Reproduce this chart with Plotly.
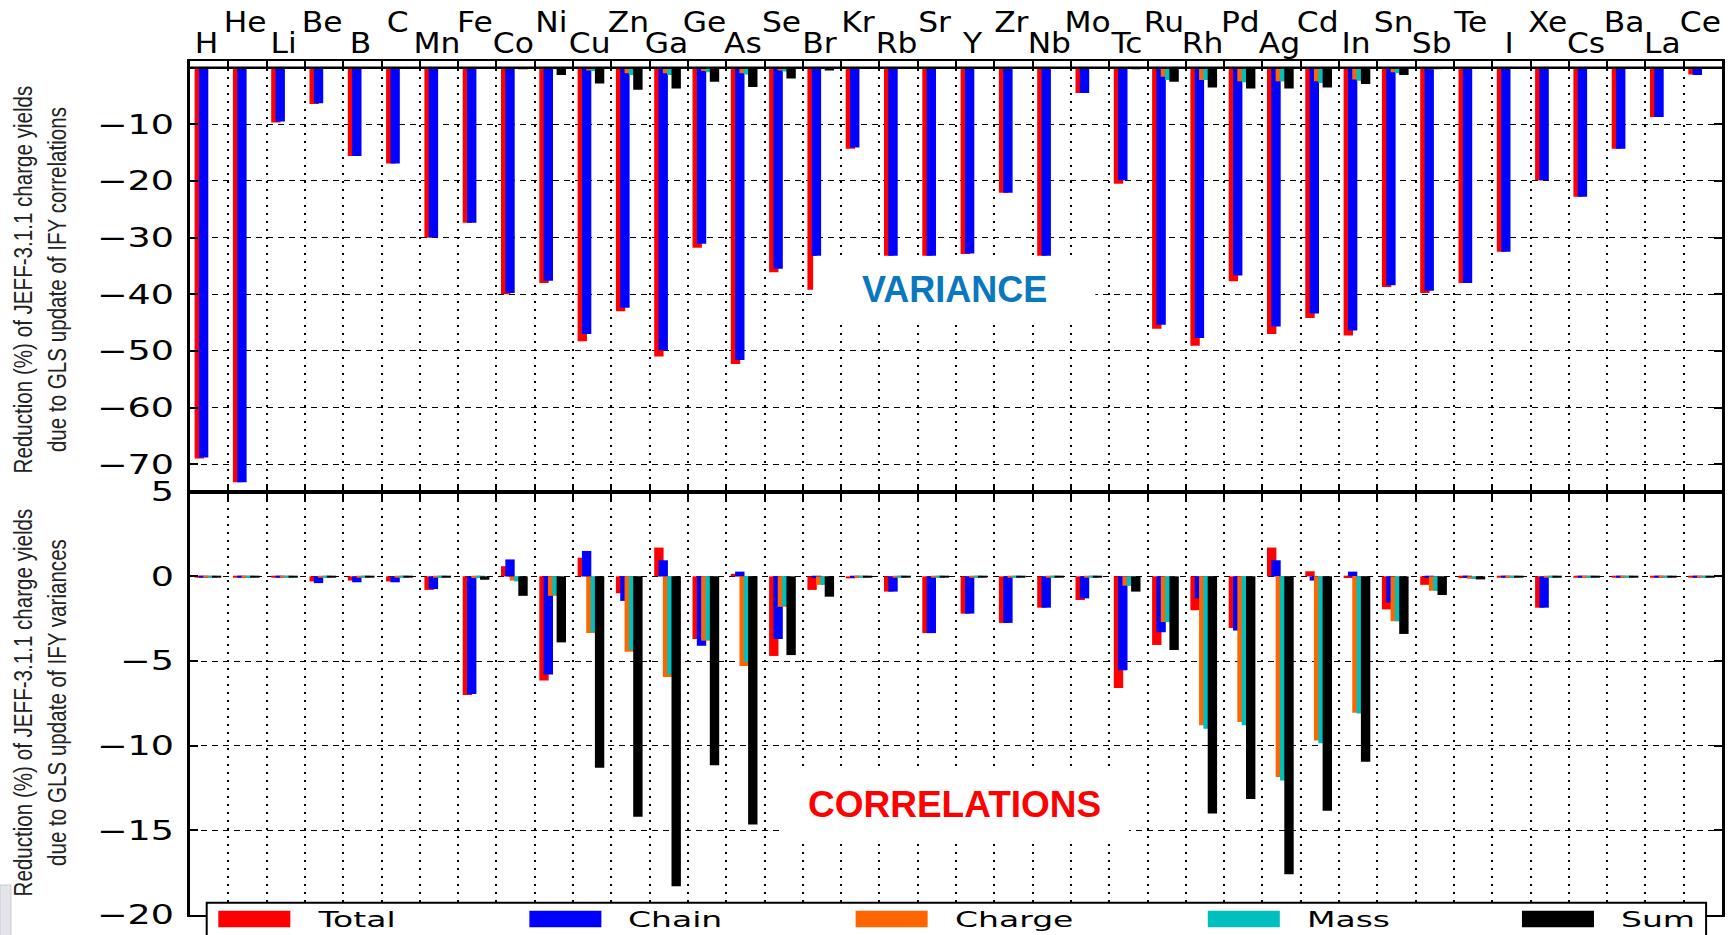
import json
import plotly.graph_objects as go

# ---------------- data ----------------
elements = ["H", "He", "Li", "Be", "B", "C", "Mn", "Fe", "Co", "Ni",
            "Cu", "Zn", "Ga", "Ge", "As", "Se", "Br", "Kr", "Rb", "Sr",
            "Y", "Zr", "Nb", "Mo", "Tc", "Ru", "Rh", "Pd", "Ag", "Cd",
            "In", "Sn", "Sb", "Te", "I", "Xe", "Cs", "Ba", "La", "Ce"]

series_names = ["Total", "Chain", "Charge", "Mass", "Sum"]
series_colors = ["#FF0000", "#0000FF", "#FF6600", "#00BFBF", "#000000"]

# upper panel: VARIANCE
total_var = [-69.0, -73.2, -9.7, -6.4, -15.6, -16.9, -30.0, -27.4, -40.0, -38.0,
             -48.3, -43.0, -51.0, -31.8, -52.3, -36.1, -39.2, -14.3, -33.2, -33.2,
             -32.9, -22.1, -33.2, -4.5, -20.5, -46.1, -49.1, -37.7, -47.0, -44.2,
             -47.3, -38.7, -39.8, -38.0, -32.5, -19.9, -22.8, -14.3, -8.7, -1.2]
chain_var = [-68.8, -73.2, -9.5, -6.3, -15.6, -16.9, -30.0, -27.4, -39.8, -37.6,
             -47.0, -42.4, -49.9, -31.1, -51.6, -35.5, -33.2, -14.1, -33.2, -33.2,
             -32.8, -22.1, -33.2, -4.5, -19.9, -45.4, -47.7, -36.7, -45.7, -43.4,
             -46.4, -38.4, -39.4, -38.0, -32.5, -19.9, -22.8, -14.3, -8.7, -1.3]
charge_var = [0, 0, 0, 0, 0, 0, 0, 0, 0, -0.2,
              -0.5, -1.0, -1.0, -0.6, -1.0, -0.5, -0.1, 0, 0, 0,
              0, 0, 0, 0, 0, -1.6, -2.2, -2.4, -2.4, -2.4,
              -2.1, -0.8, -0.3, 0, 0, 0, 0, 0, 0, 0]
mass_var = [0, 0, 0, 0, 0, 0, 0, 0, 0, -0.3,
            -0.6, -1.3, -1.3, -0.8, -1.2, -0.7, -0.1, 0, 0, 0,
            0, 0, 0, 0, 0, -2.2, -2.2, -2.6, -2.4, -2.7,
            -2.3, -1.0, -0.3, 0, 0, 0, 0, 0, 0, 0]
sum_var = [0, 0, 0, 0, 0, 0, 0, 0, -0.3, -1.3,
           -2.8, -3.9, -3.7, -2.5, -3.4, -1.9, -0.5, 0, 0, 0,
           0, 0, 0, 0, -0.3, -2.5, -3.5, -3.7, -3.7, -3.5,
           -2.9, -1.3, -0.2, 0, 0, 0, 0, 0, 0, 0]

# lower panel: CORRELATIONS
total_cor = [-0.05, -0.05, -0.05, -0.3, -0.25, -0.3, -0.8, -7.0, 0.6, -6.15,
             1.1, -1.0, 1.7, -3.7, 0.15, -4.7, -0.8, -0.12, -0.9, -3.35,
             -2.2, -2.75, -1.85, -1.4, -6.6, -4.05, -2.0, -3.05, 1.7, 0.3,
             -0.1, -1.95, -0.5, -0.1, -0.05, -1.85, -0.05, -0.05, -0.05, -0.05]
chain_cor = [-0.05, -0.05, -0.05, -0.4, -0.35, -0.35, -0.75, -6.95, 1.0, -5.8,
             1.5, -1.45, 0.95, -4.1, 0.28, -3.7, -0.1, -0.05, -0.9, -3.35,
             -2.2, -2.75, -1.85, -1.3, -5.55, -3.3, -1.3, -3.2, 0.95, -0.25,
             0.28, -1.55, -0.1, -0.05, -0.05, -1.85, -0.05, -0.05, -0.05, -0.05]
charge_cor = [-0.05, -0.05, -0.05, -0.05, -0.05, -0.05, -0.05, -0.1, -0.25, -1.15,
              -3.35, -4.45, -5.95, -3.8, -5.3, -1.8, -0.5, -0.05, -0.05, -0.05,
              -0.05, -0.05, -0.05, -0.05, -0.55, -2.7, -8.8, -8.6, -11.85, -9.7,
              -8.05, -2.65, -0.85, -0.15, -0.05, -0.05, -0.05, -0.05, -0.05, -0.05]
mass_cor = [-0.05, -0.05, -0.05, -0.05, -0.05, -0.05, -0.05, -0.1, -0.3, -1.1,
            -3.3, -4.35, -5.8, -3.75, -5.05, -1.75, -0.5, -0.05, -0.05, -0.05,
            -0.05, -0.05, -0.05, -0.05, -0.55, -2.7, -9.0, -8.8, -12.05, -9.85,
            -8.1, -2.65, -0.85, -0.15, -0.05, -0.05, -0.05, -0.05, -0.05, -0.05]
sum_cor = [-0.05, -0.05, -0.05, -0.05, -0.05, -0.05, -0.05, -0.2, -1.15, -3.9,
           -11.3, -14.2, -18.3, -11.15, -14.65, -4.65, -1.2, -0.08, -0.05, -0.05,
           -0.05, -0.05, -0.05, -0.05, -0.9, -4.35, -14.0, -13.15, -17.6, -13.85,
           -10.95, -3.4, -1.1, -0.18, -0.05, -0.05, -0.05, -0.05, -0.05, -0.05]

top_ticks = [-70, -60, -50, -40, -30, -20, -10]
bottom_ticks = [5, 0, -5, -10, -15, -20]

ytitle_top = "Reduction (%) of JEFF-3.1.1 charge yields<br>due to GLS update of IFY correlations"
ytitle_bottom = "Reduction (%) of JEFF-3.1.1 charge yields<br>due to GLS update of IFY variances"

var_series = [total_var, chain_var, charge_var, mass_var, sum_var]
cor_series = [total_cor, chain_cor, charge_cor, mass_cor, sum_cor]

# ---------------- layout constants ----------------
W, H = 1733, 935
L, R, T, B = 190.0, 1721.7, 61.0, 915.0
SPLIT = 491.7


def px(xp):
    return (xp - L) / (R - L)


def py(yp):
    return (B - yp) / (B - T)


d = py(SPLIT)
BAR_W = 0.245
BAR_OFF0 = 0.12
BAR_STEP = 0.113

idx = list(range(len(elements)))
fig = go.Figure()
for k in range(5):
    fig.add_trace(go.Bar(x=idx, y=var_series[k], xaxis="x", yaxis="y",
                         offset=BAR_OFF0 + BAR_STEP * k, width=BAR_W,
                         marker=dict(color=series_colors[k], line=dict(width=0)),
                         name=series_names[k], showlegend=False))
for k in range(5):
    fig.add_trace(go.Bar(x=idx, y=cor_series[k], xaxis="x2", yaxis="y2",
                         offset=BAR_OFF0 + BAR_STEP * k, width=BAR_W,
                         marker=dict(color=series_colors[k], line=dict(width=0)),
                         name=series_names[k], showlegend=False))

tickfont = dict(family="DejaVu Sans", size=27, color="black")
xcommon = dict(range=[0, len(elements)], tickvals=idx, showticklabels=False,
               ticks="inside", ticklen=8, tickwidth=1.5, tickcolor="black",
               showline=True, linecolor="black", linewidth=1.6, mirror="ticks",
               showgrid=True, gridcolor="black", gridwidth=1.5, griddash="2px,6px",
               zeroline=False, automargin=False)
ycommon = dict(ticks="inside", ticklen=8, tickwidth=1.5, tickcolor="black",
               showline=True, linecolor="black", linewidth=2.5, mirror="ticks",
               showgrid=True, gridcolor="black", gridwidth=1, griddash="6px,5px",
               tickfont=tickfont, ticklabelstandoff=8, zeroline=False, automargin=False)

fig.update_layout(
    template="none",
    width=W, height=H, autosize=False,
    margin=dict(l=L, r=W - R, t=T, b=H - B, pad=0, autoexpand=False),
    paper_bgcolor="white", plot_bgcolor="white",
    barmode="overlay", showlegend=False,
    xaxis=dict(domain=[0, 1], anchor="y", **xcommon),
    xaxis2=dict(domain=[0, 1], anchor="y2", matches="x", **xcommon),
    yaxis=dict(domain=[d, 1], anchor="x", range=[-74.85, 1.17],
               tickvals=top_ticks, **ycommon),
    yaxis2=dict(domain=[0, d], anchor="x2", range=[-20, 5],
                tickvals=bottom_ticks, **ycommon),
)

shapes = []
annotations = []

# thick zero line in upper panel
shapes.append(dict(type="line", xref="x", yref="y", x0=0, x1=len(elements), y0=0, y1=0,
                   line=dict(color="black", width=2.5), layer="above"))

# element labels, staggered
for i, el in enumerate(elements):
    annotations.append(dict(text=el, x=i + 0.44, xref="x", yref="paper",
                            y=py(43.5) if i % 2 == 0 else py(23),
                            xanchor="center", yanchor="middle", showarrow=False,
                            font=dict(family="DejaVu Sans", size=28, color="black")))

# white boxes with panel labels
shapes.append(dict(type="rect", xref="x", yref="y", x0=16.27, x1=23.64, y0=-44.57, y1=-33.26,
                   fillcolor="white", line=dict(width=0), layer="above"))
annotations.append(dict(text="<b>VARIANCE</b>", x=19.95, y=-39.1, xref="x", yref="y",
                        showarrow=False, xanchor="center", yanchor="middle",
                        font=dict(family="Liberation Sans, Arial", size=36, color="#0A78BE")))
shapes.append(dict(type="rect", xref="x2", yref="y2", x0=15.38, x1=24.52, y0=-15.45, y1=-11.55,
                   fillcolor="white", line=dict(width=0), layer="above"))
annotations.append(dict(text="<b>CORRELATIONS</b>", x=19.95, y=-13.5, xref="x2", yref="y2",
                        showarrow=False, xanchor="center", yanchor="middle",
                        font=dict(family="Liberation Sans, Arial", size=37, color="#FF0000")))

# y-axis titles (condensed afterwards in the browser)
ytitle_font = dict(family="Liberation Sans, Arial, sans-serif", size=26, color="#222222")
annotations.append(dict(text=ytitle_top, textangle=-90, xref="paper", yref="paper",
                        x=px(40.5), y=py(279), xanchor="center", yanchor="middle",
                        showarrow=False, font=ytitle_font))
annotations.append(dict(text=ytitle_bottom, textangle=-90, xref="paper", yref="paper",
                        x=px(40.5), y=py(702), xanchor="center", yanchor="middle",
                        showarrow=False, font=ytitle_font))

# legend (drawn manually to get matplotlib-like wide patches)
shapes.append(dict(type="rect", xref="paper", yref="paper", x0=px(206.7), x1=px(1705.8),
                   y0=py(945), y1=py(902.7), fillcolor="white",
                   line=dict(color="black", width=2), layer="above"))
patch_left = [218.3, 529.3, 855.5, 1207.6, 1521.7]
for k in range(5):
    shapes.append(dict(type="rect", xref="paper", yref="paper",
                       x0=px(patch_left[k]), x1=px(patch_left[k] + 72),
                       y0=py(927.3), y1=py(910.7), fillcolor=series_colors[k],
                       line=dict(width=0), layer="above"))
    annotations.append(dict(text=series_names[k], xref="paper", yref="paper",
                            x=px(patch_left[k] + 97), y=py(919), xanchor="left", yanchor="middle",
                            showarrow=False,
                            font=dict(family="DejaVu Sans", size=22, color="black")))

# small grey patch at the bottom-left corner of the original picture
shapes.append(dict(type="rect", xref="paper", yref="paper", x0=px(0), x1=px(11),
                   y0=py(940), y1=py(885), fillcolor="#E4E4EA",
                   line=dict(color="#C8C8D0", width=1), layer="above"))

fig.update_layout(shapes=shapes, annotations=annotations)

post_js = """
document.body.style.margin = '0';
document.body.style.padding = '0';
document.body.style.overflow = 'hidden';
var gd = document.getElementById('{plot_id}');
var EL = %s;
var LEG = %s;
function sx(t, s, mode) {
  var bb = t.getBBox();
  var ax = (mode === 'left') ? bb.x : (mode === 'right') ? (bb.x + bb.width) : (bb.x + bb.width / 2);
  var tr = t.getAttribute('transform') || '';
  t.setAttribute('transform', tr + ' translate(' + ax + ',0) scale(' + s + ',1) translate(' + (-ax) + ',0)');
}
function fixText() {
  gd.querySelectorAll('g.annotation text.annotation-text').forEach(function (t) {
    var s = t.textContent;
    if (s.indexOf('Reduction') === 0) {
      var bb = t.getBBox();
      var sc = 388 / bb.width;
      var cx = bb.x + bb.width / 2, cy = bb.y + bb.height / 2;
      t.setAttribute('transform', 'translate(' + cx + ',' + cy + ') scale(' + sc + ',1) translate(' + (-cx) + ',' + (-cy) + ')');
    } else if (LEG.indexOf(s) >= 0) {
      sx(t, 1.5, 'left');
    } else if (EL.indexOf(s) >= 0) {
      sx(t, 1.12, 'center');
    }
  });
  gd.querySelectorAll('g.ytick text, g.y2tick text').forEach(function (t) { sx(t, 1.35, 'right'); });
}
try { fixText(); } catch (e) {}
""" % (json.dumps(elements), json.dumps(series_names))

fig.write_html("out.html", post_script=post_js, config={"displayModeBar": False})
